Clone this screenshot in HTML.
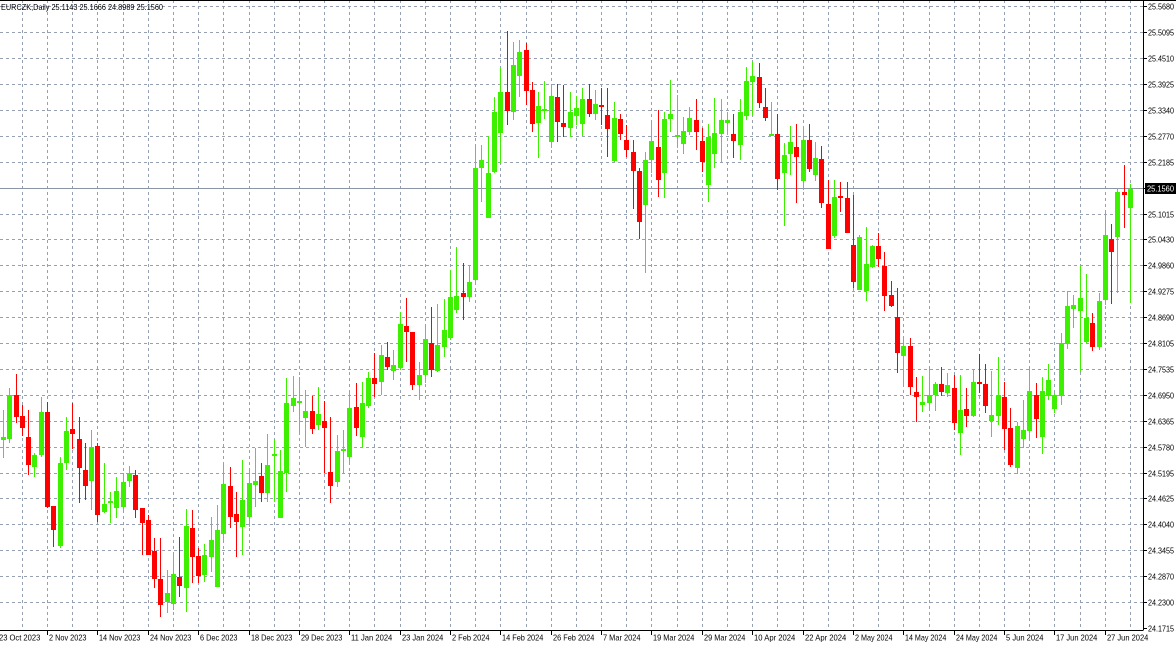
<!DOCTYPE html>
<html><head><meta charset="utf-8"><style>
html,body{margin:0;padding:0;background:#fff;}
svg{display:block;}
text{font-family:"Liberation Sans",sans-serif;font-size:9px;fill:#000;}
</style></head><body>
<svg id="c" width="1176" height="645" viewBox="0 0 1176 645" xmlns="http://www.w3.org/2000/svg">
<rect width="1176" height="645" fill="#fff"/>
<g id="grid"></g>
<line x1="0" y1="188.5" x2="1143" y2="188.5" stroke="#8a94a4" stroke-width="1"/>
<g id="candles"></g>
<g id="axes"></g>
<line x1="0" y1="0.5" x2="1176" y2="0.5" stroke="#000" stroke-width="1"/>
<line x1="1143.5" y1="0" x2="1143.5" y2="630" stroke="#000" stroke-width="1"/>
<line x1="0" y1="630.5" x2="1143.5" y2="630.5" stroke="#000" stroke-width="1"/>
<text x="1" y="10" textLength="162" lengthAdjust="spacingAndGlyphs" style="font-size:8.5px">EURCZK,Daily  25.1143 25.1666 24.8989 25.1560</text>
<rect x="1145" y="183" width="31" height="11" fill="#000"/>
<text x="1147" y="191.5" textLength="27" lengthAdjust="spacingAndGlyphs" style="fill:#fff;font-size:8.5px">25.1560</text>
</svg>
<script>
var D="g 437 440 410 458|g 395 439 388 443|r 395 417 374 423|r 416 428 405 436|r 437 465 410 475|g 455 467 453 477|g 412 455 397 457|r 412 507 402 508|r 506 530 506 547|g 463 546 457 548|g 431 463 417 470|r 429 434 403 449|r 439 468 417 503|r 470 486 443 500|g 447 481 430 510|r 446 515 443 522|g 504 512 463 513|g 501 503 492 523|g 491 508 477 518|g 482 507 473 513|g 473 481 466 487|r 475 510 470 518|r 508 523 508 555|r 520 555 515 555|r 551 579 538 588|r 579 605 538 617|g 593 602 570 613|g 574 604 553 610|r 577 586 537 597|g 526 588 509 612|r 528 557 510 583|r 556 576 548 583|g 555 575 544 582|g 540 557 517 572|g 530 587 505 587|g 484 534 462 540|r 486 517 467 528|r 514 522 492 557|g 500 527 460 555|g 483 517 470 527|g 481 485 448 507|r 476 493 463 502|g 465 493 434 502|g 454 456 439 502|g 471 518 450 518|g 403 473 378 492|g 398 406 376 412|g 401 403 377 432|g 411 418 390 447|r 411 429 396 434|g 414 425 387 430|r 421 428 401 473|r 472 486 417 503|g 451 482 435 487|g 449 451 430 473|g 408 457 390 464|r 407 428 383 436|g 403 437 382 448|g 378 406 372 408|r 378 384 353 397|g 355 382 345 395|r 357 367 342 370|g 365 371 350 380|g 324 368 312 370|r 326 332 298 362|r 332 385 332 390|g 375 385 362 400|g 339 375 326 383|r 343 370 307 377|g 345 371 304 372|g 330 347 299 357|g 297 338 270 340|g 296 310 247 313|r 293 297 263 320|g 282 297 265 302|g 168 280 147 285|g 160 168 145 202|g 173 218 136 218|g 112 172 97 173|g 92 133 68 163|r 92 111 31 125|g 65 112 42 120|g 52 76 40 97|r 50 91 43 105|r 90 124 82 132|g 106 123 92 158|g 109 111 81 119|g 96 142 86 148|r 97 122 84 142|r 123 127 85 137|g 112 128 92 137|g 108 116 96 125|g 99 124 88 136|r 99 114 84 117|g 104 114 90 120|r 105 107 88 125|r 115 129 88 157|g 118 161 102 162|r 119 134 114 140|r 140 150 125 157|r 152 171 140 209|r 171 222 168 239|g 160 205 152 273|g 141 160 122 173|r 147 180 110 197|g 119 173 112 198|g 114 119 80 132|g 135 137 95 148|g 131 144 117 154|g 118 132 107 135|r 120 132 99 150|r 141 162 128 172|g 137 185 124 202|g 133 154 98 168|g 120 134 99 162|g 120 123 112 135|r 134 141 114 158|g 112 145 99 160|g 81 116 67 120|g 76 82 62 115|r 77 103 63 108|r 107 118 88 121|g 134 136 102 136|r 134 179 114 190|g 155 173 143 226|g 142 154 126 175|r 147 157 124 203|g 140 181 128 190|r 140 169 124 172|g 158 175 142 181|r 159 203 146 208|r 204 249 180 249|g 197 236 180 238|r 196 198 182 212|r 198 233 182 233|r 245 282 195 288|g 237 290 235 290|g 264 291 227 301|g 246 267 245 268|r 246 259 233 267|r 266 296 252 311|r 295 306 281 307|r 317 353 288 373|g 346 356 338 384|r 346 387 338 395|r 392 397 377 422|g 402 405 376 412|g 395 403 369 409|g 384 395 382 411|r 384 392 367 396|g 385 393 373 397|r 388 423 375 430|g 410 433 375 455|r 409 416 388 427|g 382 416 370 417|r 382 384 354 393|r 384 406 364 413|g 415 421 371 437|g 395 416 357 425|r 397 429 382 450|r 428 465 408 467|g 426 468 422 474|g 430 439 400 448|g 391 431 367 438|r 395 419 383 438|g 391 437 377 454|g 380 396 364 400|g 395 409 393 413|g 343 396 333 405|g 306 344 291 349|g 305 309 295 328|g 298 311 265 372|g 318 342 274 343|r 323 347 313 351|g 301 347 293 350|g 235 300 211 305|r 239 252 224 304|g 192 237 188 293|r 192 195 165 228|g 189 208 184 303";
var NS="http://www.w3.org/2000/svg";
function el(p,n,a,t){var e=document.createElementNS(NS,n);for(var k in a)e.setAttribute(k,a[k]);if(t)e.textContent=t;p.appendChild(e);return e;}
var S=6.296,X0=3;
function bx(i){return X0+S*i;}
var grid=document.getElementById('grid'),cg=document.getElementById('candles'),ax=document.getElementById('axes');
var P=["25.5680","25.5095","25.4510","25.3925","25.3340","25.2770","25.2185","25.1600","25.1015","25.0430","24.9860","24.9275","24.8690","24.8105","24.7535","24.6950","24.6365","24.5780","24.5195","24.4625","24.4040","24.3455","24.2870","24.2300","24.1715"];
for(var k=0;k<25;k++){var y=Math.round(6.3+25.9*k)+0.5;
 if(k<24) el(grid,'line',{x1:0,y1:y,x2:1143,y2:y,stroke:'#95a0b2','stroke-width':1,'stroke-dasharray':'3,3'});
 el(ax,'line',{x1:1143,y1:y,x2:1147,y2:y,stroke:'#000','stroke-width':1});
 if(k!==7) el(ax,'text',{x:1148,y:y+3,textLength:26,lengthAdjust:'spacingAndGlyphs',style:'font-size:8.5px'},P[k]);}
for(var i=3;i<182;i+=4){var x=Math.round(bx(i))+0.5;el(grid,'line',{x1:x,y1:0,x2:x,y2:630,stroke:'#95a0b2','stroke-width':1,'stroke-dasharray':'3,3'});}
var L=["23 Oct 2023","2 Nov 2023","14 Nov 2023","24 Nov 2023","6 Dec 2023","18 Dec 2023","29 Dec 2023","11 Jan 2024","23 Jan 2024","2 Feb 2024","14 Feb 2024","26 Feb 2024","7 Mar 2024","19 Mar 2024","29 Mar 2024","10 Apr 2024","22 Apr 2024","2 May 2024","14 May 2024","24 May 2024","5 Jun 2024","17 Jun 2024","27 Jun 2024"];
for(var j=0;j<L.length;j++){var b=-1+8*j,x=Math.round(bx(b));
 el(ax,'line',{x1:x+0.5,y1:630,x2:x+0.5,y2:635,stroke:'#000','stroke-width':1});
 el(ax,'text',{x:x+2,y:640.5,textLength:(L[j].length*3.75).toFixed(1),lengthAdjust:'spacingAndGlyphs',style:'font-size:8.5px'},L[j]);}
var A=D.split('|');
for(var i=0;i<A.length;i++){var f=A[i].split(' '),c=f[0]=='g'?'#3cf000':'#ff0000';
 var t=+f[1],bt=+f[2],h=+f[3],l=+f[4],x=Math.round(bx(i));
 el(cg,'rect',{x:x,y:h,width:1,height:Math.max(1,l-h),fill:c});
 el(cg,'rect',{x:x-2,y:t,width:5,height:Math.max(1,bt-t),fill:c});}
</script>
</body></html>
